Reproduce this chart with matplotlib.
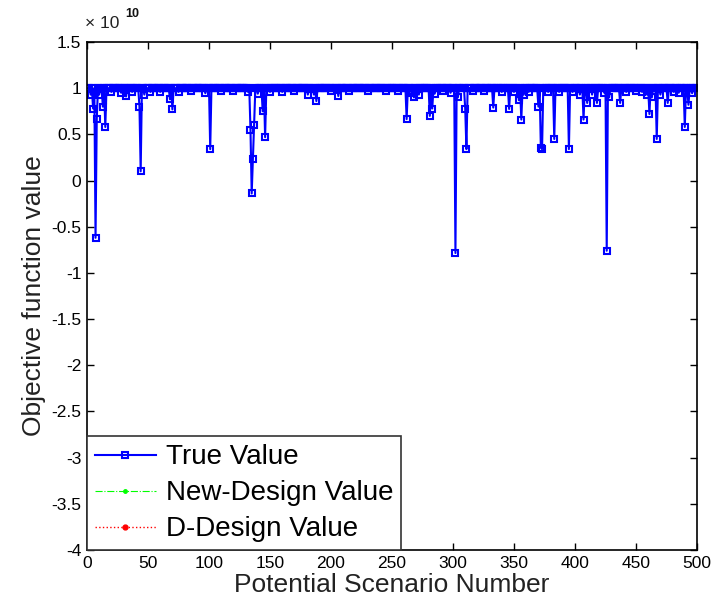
import numpy as np
import matplotlib
matplotlib.use("Agg")
import matplotlib.pyplot as plt
from matplotlib.ticker import FuncFormatter, MultipleLocator

plt.rcParams['font.family'] = ['Liberation Sans', 'DejaVu Sans']
plt.rcParams['axes.unicode_minus'] = False

# Scenario numbers and objective values (in units of 1e10)
scenarios = np.arange(1, 501)
baseline_value = 1.0
dip_scenarios = [3, 5, 7, 8, 10, 13, 15, 20, 28, 32, 37, 43, 44, 47, 52, 60, 68, 70,
                 75, 85, 97, 101, 110, 120, 132, 134, 135, 136, 137, 140, 144, 146,
                 150, 160, 170, 181, 186, 188, 200, 206, 215, 230, 245, 255, 262,
                 266, 268, 272, 281, 283, 285, 292, 298, 302, 304, 310, 311, 316,
                 325, 333, 340, 346, 350, 354, 356, 358, 362, 370, 372, 373, 378,
                 383, 387, 395, 398, 404, 407, 410, 414, 418, 424, 426, 428, 437,
                 442, 450, 455, 459, 461, 463, 467, 470, 476, 481, 485, 490, 493, 496]
dip_values = [0.93, 0.78, -0.62, 0.67, 0.93, 0.80, 0.58, 0.96, 0.95, 0.91, 0.96, 0.80,
              0.10, 0.93, 0.96, 0.96, 0.88, 0.77, 0.96, 0.97, 0.945, 0.34, 0.97, 0.97,
              0.96, 0.55, -0.14, 0.23, 0.60, 0.94, 0.75, 0.47, 0.96, 0.96, 0.97, 0.93,
              0.93, 0.86, 0.97, 0.915, 0.97, 0.97, 0.97, 0.97, 0.665, 0.945, 0.90,
              0.93, 0.70, 0.78, 0.94, 0.97, 0.95, -0.785, 0.90, 0.78, 0.34, 0.97, 0.97,
              0.79, 0.96, 0.775, 0.96, 0.87, 0.66, 0.93, 0.96, 0.80, 0.355, 0.34, 0.96,
              0.45, 0.96, 0.34, 0.96, 0.93, 0.66, 0.84, 0.93, 0.84, 0.95, -0.76, 0.90,
              0.84, 0.96, 0.97, 0.96, 0.93, 0.72, 0.90, 0.45, 0.93, 0.84, 0.96, 0.95,
              0.58, 0.82, 0.945]

true_value = np.full(scenarios.shape, baseline_value)
true_value[np.array(dip_scenarios) - 1] = dip_values
true_value = true_value * 1e10

series_labels = ['True Value', 'New-Design Value', 'D-Design Value']
x_ticks = list(range(0, 501, 50))
y_scale = 1e10

fig = plt.figure(figsize=(7.17, 6.13), dpi=100)
ax = fig.add_axes([87 / 717, 1 - 550 / 613, 610 / 717, 508 / 613])

ax.plot(scenarios, true_value, color=(0, 0, 1), linewidth=1.5, marker='s',
        markersize=4.6, markerfacecolor='none', markeredgecolor=(0, 0, 1),
        markeredgewidth=1.5, label=series_labels[0])
ax.plot([], [], color=(0, 1, 0), linestyle='-.', linewidth=0.8, marker='.',
        markersize=5, label=series_labels[1])
ax.plot([], [], color=(1, 0, 0), linestyle=':', linewidth=1.0, marker='o',
        markersize=3.5, label=series_labels[2])

ax.set_xlim(0, 500)
ax.set_ylim(-4 * y_scale, 1.5 * y_scale)
ax.set_xticks(x_ticks)
ax.yaxis.set_major_locator(MultipleLocator(0.5 * y_scale))
ax.yaxis.set_major_formatter(FuncFormatter(lambda v, p: '%g' % round(v / y_scale, 2)))

ax.tick_params(direction='in', length=5, width=1.0, top=True, right=True,
               labelsize=12.5, pad=4)
for sp in ax.spines.values():
    sp.set_linewidth(1.2)

# exponent marker above the y axis
fig.text(85 / 717, 1 - 28 / 613, '\u00d7 10', fontsize=12.5, color='#222222',
         ha='left', va='baseline')
fig.text(125 / 717, 1 - 17 / 613, '10', fontsize=9, color='#111111',
         fontweight='bold', ha='left', va='baseline')

ax.set_xlabel('Potential Scenario Number', fontsize=19, color='#222222', labelpad=2)
ax.set_ylabel('Objective function value', fontsize=19, color='#222222', labelpad=4)

leg = ax.legend(loc='lower left', bbox_to_anchor=(0.0, 0.0), borderaxespad=0.0,
                fontsize=20, fancybox=False, framealpha=1, edgecolor='#333333',
                handlelength=2.2, handletextpad=0.35, labelspacing=0.36,
                borderpad=0.28)
leg.get_frame().set_linewidth(1.2)

fig.savefig('out.png', dpi=100)
